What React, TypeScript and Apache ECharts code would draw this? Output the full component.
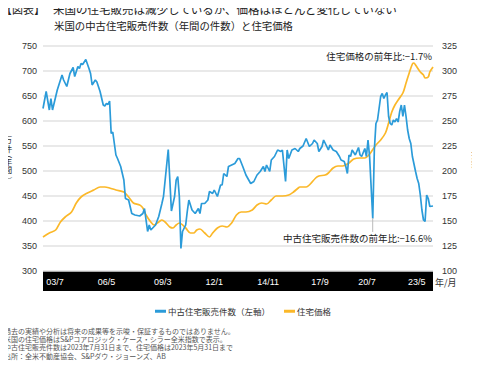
import React, { useEffect, useRef } from "react";
import * as echarts from "echarts";

// ---- data ----
const START_YEAR = 2003;
const MONTH_COUNT = 247; // 2003/1 .. 2023/7
const months: string[] = [];
for (let i = 0; i < MONTH_COUNT; i++) {
  const y = START_YEAR + Math.floor(i / 12);
  const m = (i % 12) + 1;
  months.push(`${String(y).slice(2)}/${m}`);
}

const xTickLabels = ["03/7", "06/5", "09/3", "12/1", "14/11", "17/9", "20/7", "23/5"];

const leftTicks = { min: 300, max: 750, step: 50 };
const rightTicks = { min: 100, max: 325, step: 25 };

// existing-home sales (10k units, annual rate) — [month index, value]
const salesData: [number, number][] = [
  [0, 625], [2, 659], [4, 622], [5, 645], [6, 622], [9, 662], [10, 672], [12, 692], [13, 682], [15, 669],
  [17, 695], [19, 707], [20, 689], [22, 709], [23, 705], [24, 715], [25, 713], [27, 723], [29, 705], [30, 695],
  [31, 672], [33, 682], [34, 678], [36, 659], [38, 632], [39, 630], [40, 635], [41, 633], [42, 640], [43, 575],
  [44, 578], [46, 532], [47, 525], [49, 509], [51, 482], [52, 445], [54, 442], [56, 415], [58, 412], [61, 410],
  [63, 415], [64, 425], [66, 379], [67, 392], [68, 382], [71, 392], [73, 409], [75, 435], [76, 449], [79, 543],
  [80, 482], [81, 420], [83, 449], [84, 482], [85, 489], [86, 449], [87, 345], [88, 379], [90, 392], [91, 419],
  [92, 442], [94, 422], [96, 415], [98, 425], [99, 415], [100, 435], [102, 435], [104, 442], [105, 459], [107, 455],
  [108, 462], [110, 449], [112, 472], [113, 472], [114, 495], [116, 489], [117, 509], [119, 512], [121, 515], [123, 525],
  [124, 525], [126, 509], [128, 492], [131, 475], [133, 479], [135, 492], [137, 499], [139, 509], [140, 499], [141, 512],
  [143, 499], [144, 522], [146, 529], [148, 542], [150, 539], [151, 542], [153, 479], [154, 542], [155, 525], [157, 542],
  [159, 545], [161, 539], [162, 545], [164, 550], [166, 565], [168, 549], [170, 555], [171, 562], [173, 555], [174, 539],
  [176, 549], [177, 562], [179, 549], [180, 542], [181, 552], [183, 542], [185, 539], [187, 529], [188, 522], [190, 519],
  [191, 509], [192, 495], [193, 532], [194, 529], [195, 542], [197, 532], [199, 547], [200, 532], [201, 529], [203, 545],
  [204, 529], [205, 562], [206, 529], [208, 405], [209, 542], [210, 595], [211, 602], [213, 649], [214, 655], [215, 645],
  [216, 652], [217, 657], [218, 609], [219, 595], [220, 592], [221, 602], [222, 598], [223, 605], [224, 598], [225, 619],
  [226, 632], [227, 609], [228, 632], [229, 609], [230, 582], [231, 565], [232, 555], [233, 529], [235, 499], [236, 485],
  [237, 475], [238, 452], [239, 422], [240, 402], [241, 399], [242, 452], [243, 445], [244, 429], [246, 430],
];

// S&P CoreLogic Case-Shiller US National index — [month index, value]
const priceData: [number, number][] = [
  [0, 134], [4, 138], [8, 141], [11, 149], [14, 154], [18, 159], [21, 168], [24, 174], [28, 178], [32, 181],
  [36, 184], [39, 184], [42, 183], [46, 181], [51, 179], [54, 174], [57, 168], [61, 166], [63, 163], [65, 156],
  [68, 149], [70, 146], [73, 149], [75, 151], [77, 149], [80, 144], [82, 143], [84, 146], [86, 148], [90, 143],
  [93, 138], [95, 138], [97, 141], [99, 142], [102, 138], [105, 134], [107, 138], [110, 143], [113, 145], [116, 144],
  [119, 148], [122, 156], [125, 159], [128, 159], [132, 161], [135, 166], [138, 168], [141, 167], [144, 171], [147, 175],
  [151, 175], [155, 176], [158, 179], [161, 183], [162, 184], [166, 184], [168, 186], [172, 193], [174, 195], [178, 196],
  [180, 198], [183, 203], [186, 205], [189, 205], [193, 208], [196, 212], [200, 213], [203, 213], [205, 215], [207, 219],
  [210, 226], [213, 231], [216, 238], [218, 248], [220, 259], [222, 266], [224, 271], [227, 278], [229, 288], [231, 298],
  [233, 307], [234, 308], [235, 306], [238, 299], [240, 296], [241, 293], [243, 294], [244, 299], [246, 304],
];

const seriesNames = ["中古住宅販売件数（左軸）", "住宅価格"];
const titleTag = "【図表】";
const titleMain = "米国の住宅販売は減少しているが、価格はほとんど変化していない";
const subTitle = "米国の中古住宅販売件数（年間の件数）と住宅価格";
const leftAxisChars = ["万", "件", "︵", "年", "間", "︶"];
const rightAxisChars = ["指", "数"];
const xAxisName = "年/月";
const notePrice = "住宅価格の前年比:−1.7%";
const noteSales = "中古住宅販売件数の前年比:−16.6%";
const footnotes = [
  "過去の実績や分析は将来の成果等を示唆・保証するものではありません。",
  "米国の住宅価格はS&Pコアロジック・ケース・シラー全米指数で表示。",
  "中古住宅販売件数は2023年7月31日まで、住宅価格は2023年5月31日まで",
  "出所：全米不動産協会、S&Pダウ・ジョーンズ、AB",
];

const BLUE = "#2b9bd9";
const ORANGE = "#fbb829";
const JP = "'Noto Sans CJK JP', 'Noto Sans', sans-serif";
const NUM = "'Liberation Sans', Arial, 'Noto Sans CJK JP', sans-serif";

// label shift styles (visual only)
const labelStyleKey: Record<string, string> = {
  "03/7": "r", "06/5": "n", "09/3": "r", "12/1": "n", "14/11": "n", "17/9": "l1", "20/7": "l2", "23/5": "l3",
};

export default function App() {
  const ref = useRef<HTMLDivElement>(null);
  useEffect(() => {
    if (!ref.current) return;
    const chart = echarts.init(ref.current, undefined, { renderer: "svg" });
    const base = { color: "#fff", fontSize: 9, fontFamily: NUM };
    const centerText = { align: "center", verticalAlign: "middle", textAlign: "center", textVerticalAlign: "middle" };
    // vertical (stacked) axis names, one glyph per element
    const leftYs = [139.3, 148, 153.4, 161.2, 169.4, 180.2];
    const leftName = leftAxisChars.map((c, i) => ({
      type: "text", x: 8, y: leftYs[i],
      style: { text: c, fontSize: 8.5, fill: "#333", fontFamily: JP, ...centerText },
    }));
    const rightName = rightAxisChars.map((c, i) => ({
      type: "text", x: 476, y: 153.5 + i * 9.5,
      style: { text: c, fontSize: 9.5, fill: "#333", fontFamily: JP, ...centerText },
    }));
    const footTexts = footnotes.map((t, i) => ({
      type: "text", left: 4, top: 327 + i * 8.4,
      style: { text: t, fontSize: 7, fill: "#555", fontFamily: JP },
    }));
    chart.setOption({
      animation: false,
      backgroundColor: "#fff",
      title: [
        { text: titleTag, left: 1, top: 3, padding: 0, textStyle: { fontSize: 11, fontWeight: "normal", color: "#222", fontFamily: JP } },
        { text: titleMain, left: 53, top: 3, padding: 0, textStyle: { fontSize: 11.5, fontWeight: "normal", color: "#222", fontFamily: JP } },
        { text: subTitle, left: 54, top: 20, padding: 0, textStyle: { fontSize: 10.4, fontWeight: "normal", color: "#222", fontFamily: JP } },
      ],
      legend: {
        left: 150,
        top: 302,
        icon: "rect",
        itemWidth: 11,
        itemHeight: 3,
        itemGap: 14,
        textStyle: { fontSize: 8.5, color: "#333", fontFamily: JP, padding: [0, 0, 0, -3] },
        data: seriesNames,
      },
      grid: { left: 43, right: 47, top: 46, bottom: 98, containLabel: false },
      xAxis: {
        type: "category",
        data: months,
        boundaryGap: false,
        z: 10,
        axisLine: { show: false },
        axisTick: { show: false },
        axisLabel: {
          interval: (_i: number, v: string) => xTickLabels.includes(v),
          formatter: (v: string) => `{${labelStyleKey[v] || "n"}|${v}}`,
          margin: 6,
          rich: {
            n: { ...base },
            r: { ...base, padding: [0, 0, 0, 5] },
            l1: { ...base, padding: [0, 4, 0, 0] },
            l2: { ...base, padding: [0, 18, 0, 0] },
            l3: { ...base, padding: [0, 26, 0, 0] },
          },
        },
      },
      yAxis: [
        {
          type: "value",
          min: leftTicks.min,
          max: leftTicks.max,
          interval: leftTicks.step,
          axisLine: { show: false },
          axisTick: { show: false },
          axisLabel: { fontSize: 9, color: "#333", fontFamily: NUM, margin: 6 },
          splitLine: { lineStyle: { color: "#e2e2e2", width: 1.5 } },
        },
        {
          type: "value",
          min: rightTicks.min,
          max: rightTicks.max,
          interval: rightTicks.step,
          position: "right",
          axisLine: { show: false },
          axisTick: { show: false },
          axisLabel: { fontSize: 9, color: "#333", fontFamily: NUM, margin: 9 },
          splitLine: { show: false },
        },
      ],
      series: [
        {
          name: seriesNames[0],
          type: "line",
          yAxisIndex: 0,
          data: salesData,
          symbol: "none",
          lineStyle: { color: BLUE, width: 1.7 },
          itemStyle: { color: BLUE },
          z: 4,
        },
        {
          name: seriesNames[1],
          type: "line",
          yAxisIndex: 1,
          data: priceData,
          symbol: "none",
          smooth: 0.3,
          lineStyle: { color: ORANGE, width: 1.7 },
          itemStyle: { color: ORANGE },
          z: 3,
        },
      ],
      graphic: [
        { type: "rect", z: 0, shape: { x: 43, y: 271, width: 390, height: 20 }, style: { fill: "#000" } },
        { type: "line", z: 5, shape: { x1: 372.7, y1: 218, x2: 372.7, y2: 232 }, style: { stroke: "#bbb", lineWidth: 1 } },
        {
          type: "text", z: 6, right: 48, top: 51,
          style: { text: notePrice, fontSize: 9.5, fill: "#222", fontFamily: JP },
        },
        {
          type: "text", z: 6, right: 48, top: 233,
          style: { text: noteSales, fontSize: 9.5, fill: "#222", fontFamily: JP },
        },
        ...footTexts,
        ...leftName,
        ...rightName,
        {
          type: "text", x: 435, y: 282,
          style: {
            text: xAxisName, fontSize: 9, fill: "#333", fontFamily: JP,
            align: "left", verticalAlign: "middle", textAlign: "left", textVerticalAlign: "middle",
          },
        },
      ],
    });
    return () => chart.dispose();
  }, []);
  return <div ref={ref} style={{ width: 480, height: 369, margin: -8 }} />;
}
